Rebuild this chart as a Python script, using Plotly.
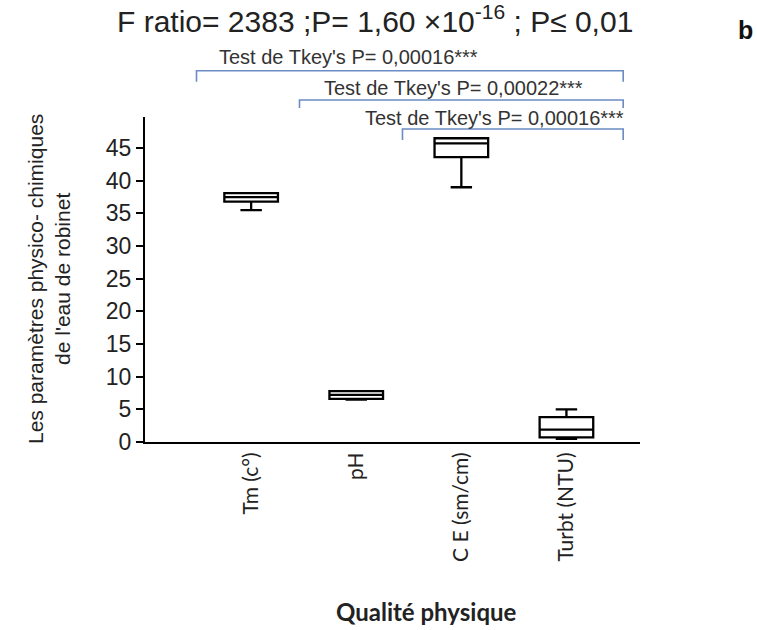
import plotly.graph_objects as go

# ---- data ----
categories = ["Tm (c°)", "pH", "C E (sm/cm)", "Turbt (NTU)"]
positions = [0, 1, 2, 3]
q1 = [36.8, 6.6, 43.6, 0.7]
median = [37.5, 7.2, 45.7, 1.9]
q3 = [38.1, 7.8, 46.5, 3.8]
lowerfence = [35.5, 6.5, 39.0, 0.5]
upperfence = [38.1, 7.8, 46.5, 5.0]
y_ticks = [0, 5, 10, 15, 20, 25, 30, 35, 40, 45]

tukey_labels = ["Test de Tkey's P= 0,00016***",
                "Test de Tkey's P= 0,00022***",
                "Test de Tkey's P= 0,00016***"]
tukey_left = [-0.52, 0.46, 1.44]
tukey_right = [3.54, 3.54, 3.54]

# ---- layout geometry ----
W, H = 757, 630
L, R, T, B = 145, 640, 117, 442
XMIN, XMAX = -1.01, 3.70
YMAX = 49.75


def px_x(p):
    return (p - L) / (R - L)


def px_y(p):
    return (B - p) / (B - T)


def data_x(v):
    return (v - XMIN) / (XMAX - XMIN)


fig = go.Figure()
fig.add_trace(go.Box(
    x=positions, q1=q1, median=median, q3=q3,
    lowerfence=lowerfence, upperfence=upperfence,
    width=0.51, whiskerwidth=0.4,
    fillcolor="white", line=dict(color="black", width=2.3),
    boxpoints=False, hoverinfo="skip", showlegend=False,
))

shapes = []
annotations = []
bracket_y = [70.7, 100, 129]
bracket_drop = [11, 8, 11]
text_y = [57, 88, 118]
text_cx = [348, 453, 494]
for i, lab in enumerate(tukey_labels):
    x0 = data_x(tukey_left[i])
    x1 = data_x(tukey_right[i])
    y0 = px_y(bracket_y[i])
    y1 = px_y(bracket_y[i] + bracket_drop[i])
    shapes.append(dict(type="path", xref="paper", yref="paper",
                       path=f"M {x0} {y1} L {x0} {y0} L {x1} {y0} L {x1} {y1}",
                       line=dict(color="#6b8cc4", width=1.6)))
    annotations.append(dict(text=lab, xref="paper", yref="paper",
                            x=px_x(text_cx[i]), y=px_y(text_y[i]),
                            xanchor="center", yanchor="middle", showarrow=False,
                            font=dict(family="Liberation Sans", size=20, color="#333333")))

annotations.append(dict(text="F ratio= 2383 ;P= 1,60 ×10<sup>-16</sup> ; P≤ 0,01",
                        xref="paper", yref="paper", x=px_x(375), y=px_y(19),
                        xanchor="center", yanchor="middle", showarrow=False,
                        font=dict(family="Liberation Sans", size=30, color="#222222")))
annotations.append(dict(text="<b>b</b>", xref="paper", yref="paper",
                        x=px_x(745), y=px_y(30), xanchor="center", yanchor="middle",
                        showarrow=False,
                        font=dict(family="Liberation Sans", size=25, color="#111111")))
annotations.append(dict(text="Les paramètres physico- chimiques<br>de l'eau de robinet",
                        xref="paper", yref="paper", x=px_x(49), y=px_y(279),
                        xanchor="center", yanchor="middle", textangle=-90,
                        showarrow=False,
                        font=dict(family="Liberation Sans", size=21, color="#222222")))
annotations.append(dict(text="<b>Qualité physique</b>", xref="paper", yref="paper",
                        x=px_x(426), y=px_y(611), xanchor="center", yanchor="middle",
                        showarrow=False,
                        font=dict(family="Lato", size=24, color="#222222")))

fig.update_layout(
    width=W, height=H,
    margin=dict(l=L, r=W - R, t=T, b=H - B, pad=0),
    plot_bgcolor="white", paper_bgcolor="white",
    shapes=shapes, annotations=annotations,
    showlegend=False,
    xaxis=dict(range=[XMIN, XMAX], tickvals=positions, ticktext=categories,
               tickangle=-90, showgrid=False, zeroline=False,
               showline=True, linecolor="black", linewidth=2, ticks="",
               tickfont=dict(family="Lato", size=21, color="#222222")),
    yaxis=dict(range=[0, YMAX], tickvals=y_ticks, showgrid=False, zeroline=False,
               showline=True, linecolor="black", linewidth=2,
               ticks="outside", ticklen=7, tickwidth=1.5, tickcolor="black",
               tickfont=dict(family="Liberation Sans", size=23, color="#222222")),
)

fig.write_html("out.html")
